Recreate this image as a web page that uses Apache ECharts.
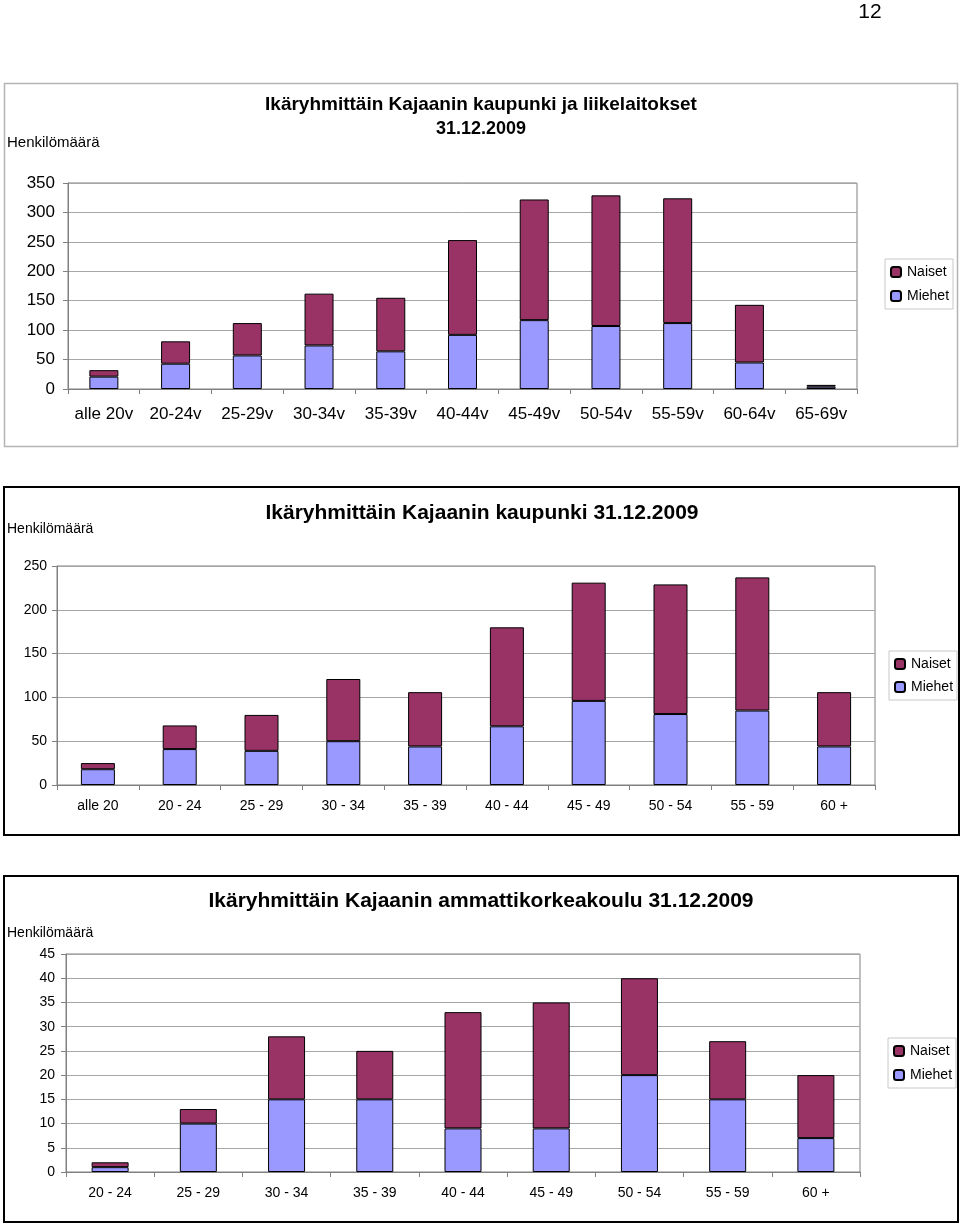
<!DOCTYPE html>
<html>
<head>
<meta charset="utf-8">
<script src="https://cdn.jsdelivr.net/npm/echarts@6/dist/echarts.min.js"></script>
<style>
html,body{margin:0;padding:0;background:#fff;}
#c{width:960px;height:1224px;}
</style>
</head>
<body>
<div id="c"></div>
<script>
// Chart 1: Kajaanin kaupunki ja liikelaitokset
const categories1 = ['alle 20v','20-24v','25-29v','30-34v','35-39v','40-44v','45-49v','50-54v','55-59v','60-64v','65-69v'];
const miehet1 = [21, 43, 57, 74, 64, 92, 117, 107, 112, 45, 4];
const naiset1 = [11, 38, 55, 88, 91, 161, 205, 222, 212, 98, 3];

// Chart 2: Kajaanin kaupunki
const categories2 = ['alle 20','20 - 24','25 - 29','30 - 34','35 - 39','40 - 44','45 - 49','50 - 54','55 - 59','60 +'];
const miehet2 = [18, 41, 39, 50, 44, 67, 96, 81, 85, 44];
const naiset2 = [7, 27, 41, 71, 62, 113, 135, 148, 152, 62];

// Chart 3: Kajaanin ammattikorkeakoulu
const categories3 = ['20 - 24','25 - 29','30 - 34','35 - 39','40 - 44','45 - 49','50 - 54','55 - 59','60 +'];
const miehet3 = [1, 10, 15, 15, 9, 9, 20, 15, 7];
const naiset3 = [1, 3, 13, 10, 24, 26, 20, 12, 13];

const legendNames = ['Naiset', 'Miehet'];
const FONT = '"Liberation Sans", Arial, Helvetica, sans-serif';
const NAISET_COLOR = '#993366';
const MIEHET_COLOR = '#9999FF';

const chart = echarts.init(document.getElementById('c'), null, {renderer: 'canvas'});

function xAxisFor(idx, cats, fs, margin) {
  return {
    type: 'category', gridIndex: idx, data: cats,
    axisLine: {lineStyle: {color: '#808080', width: 1}},
    axisTick: {show: true, length: 5, lineStyle: {color: '#808080'}},
    axisLabel: {color: '#000', fontSize: fs, fontFamily: FONT, margin: margin, interval: 0}
  };
}
function yAxisFor(idx, max, interval, fs, margin) {
  return {
    type: 'value', gridIndex: idx, min: 0, max: max, interval: interval,
    axisLine: {show: true, lineStyle: {color: '#808080', width: 1}},
    axisTick: {show: true, length: 5, lineStyle: {color: '#808080'}},
    splitLine: {show: true, lineStyle: {color: '#a6a6a6', width: 1}},
    axisLabel: {color: '#000', fontSize: fs, fontFamily: FONT, margin: margin}
  };
}
function barPair(idx, men, women, width) {
  const base = {
    type: 'bar', xAxisIndex: idx, yAxisIndex: idx, stack: 's' + idx,
    barWidth: width, animation: false
  };
  return [
    Object.assign({}, base, {name: 'Miehet', data: men,
      itemStyle: {color: MIEHET_COLOR, borderColor: '#000', borderWidth: 1}}),
    Object.assign({}, base, {name: 'Naiset', data: women,
      itemStyle: {color: NAISET_COLOR, borderColor: '#000', borderWidth: 1}})
  ];
}
function legendFor(left, top, fs, gap) {
  return {
    data: legendNames, orient: 'vertical', left: left, top: top,
    itemWidth: 10, itemHeight: 10, itemGap: gap,
    borderColor: '#c8c8c8', borderWidth: 1, padding: [6, 4, 6, 5],
    backgroundColor: '#fff', selectedMode: false,
    textStyle: {color: '#000', fontSize: fs, fontFamily: FONT, padding: [0, 0, 0, 1]}
  };
}

const option = {
  animation: false,
  backgroundColor: '#fff',
  grid: [
    {left: 68, top: 183, width: 789, height: 206, show: true, borderColor: '#808080', borderWidth: 1, backgroundColor: '#fff'},
    {left: 57, top: 566, width: 818, height: 219, show: true, borderColor: '#808080', borderWidth: 1, backgroundColor: '#fff'},
    {left: 66, top: 954, width: 794, height: 218, show: true, borderColor: '#808080', borderWidth: 1, backgroundColor: '#fff'}
  ],
  xAxis: [
    xAxisFor(0, categories1, 17, 17),
    xAxisFor(1, categories2, 14, 14),
    xAxisFor(2, categories3, 14, 14)
  ],
  yAxis: [
    yAxisFor(0, 350, 50, 17, 13),
    yAxisFor(1, 250, 50, 14, 10),
    yAxisFor(2, 45, 5, 14, 11)
  ],
  legend: [
    legendFor(885, 259, 14, 10),
    legendFor(889, 651, 14, 9),
    legendFor(888, 1038, 14, 10)
  ],
  series: [].concat(
    barPair(0, miehet1, naiset1, 29),
    barPair(1, miehet2, naiset2, 34),
    barPair(2, miehet3, naiset3, 37)
  ),
  graphic: [
    // frames
    {type: 'rect', shape: {x: 4.5, y: 83.5, width: 953, height: 363}, style: {fill: 'none', stroke: '#b4b4b4', lineWidth: 1.5}, z: -1},
    {type: 'rect', shape: {x: 4, y: 487, width: 955, height: 348}, style: {fill: 'none', stroke: '#000', lineWidth: 2}, z: -1},
    {type: 'rect', shape: {x: 4, y: 876, width: 954, height: 346}, style: {fill: 'none', stroke: '#000', lineWidth: 2}, z: -1},
    // page number
    {type: 'text', x: 870, y: 12, style: {text: '12', fontSize: 21, fontFamily: FONT, fill: '#000', align: 'center', verticalAlign: 'middle'}},
    // titles
    {type: 'text', x: 481, y: 105, style: {text: 'Ikäryhmittäin Kajaanin kaupunki ja liikelaitokset', fontSize: 19, fontWeight: 'bold', fontFamily: FONT, fill: '#000', align: 'center', verticalAlign: 'middle'}},
    {type: 'text', x: 481, y: 129, style: {text: '31.12.2009', fontSize: 18, fontWeight: 'bold', fontFamily: FONT, fill: '#000', align: 'center', verticalAlign: 'middle'}},
    {type: 'text', x: 482, y: 513, style: {text: 'Ikäryhmittäin Kajaanin kaupunki 31.12.2009', fontSize: 21, fontWeight: 'bold', fontFamily: FONT, fill: '#000', align: 'center', verticalAlign: 'middle'}},
    {type: 'text', x: 481, y: 901, style: {text: 'Ikäryhmittäin Kajaanin ammattikorkeakoulu 31.12.2009', fontSize: 21, fontWeight: 'bold', fontFamily: FONT, fill: '#000', align: 'center', verticalAlign: 'middle'}},
    // axis names
    {type: 'text', x: 7, y: 143, style: {text: 'Henkilömäärä', fontSize: 15, fontFamily: FONT, fill: '#000', align: 'left', verticalAlign: 'middle'}},
    {type: 'text', x: 7, y: 529, style: {text: 'Henkilömäärä', fontSize: 14, fontFamily: FONT, fill: '#000', align: 'left', verticalAlign: 'middle'}},
    {type: 'text', x: 7, y: 933, style: {text: 'Henkilömäärä', fontSize: 14, fontFamily: FONT, fill: '#000', align: 'left', verticalAlign: 'middle'}}
  ]
};
chart.setOption(option);
</script>
</body>
</html>
